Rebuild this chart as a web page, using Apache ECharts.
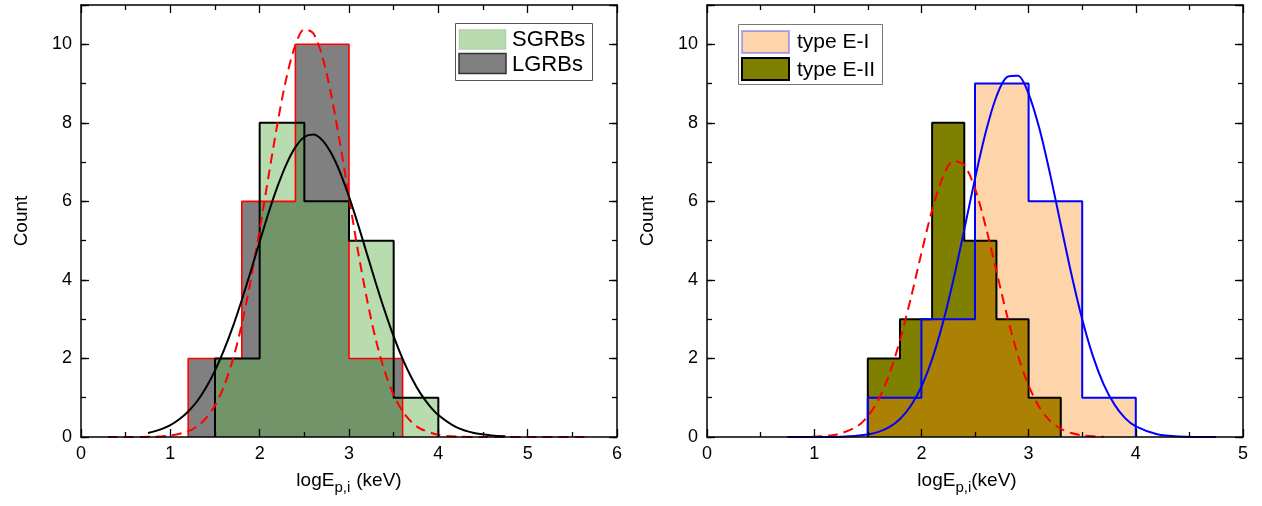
<!DOCTYPE html>
<html><head><meta charset="utf-8">
<script src="https://cdn.jsdelivr.net/npm/echarts@6/dist/echarts.min.js"></script>
<style>html,body{margin:0;padding:0;background:#fff}#c{width:1262px;height:506px}</style>
</head><body><div id="c"></div>
<script>
// ---- tick values ----
const xTicksLeft = [0, 1, 2, 3, 4, 5, 6];
const xTicksRight = [0, 1, 2, 3, 4, 5];
const yTickLabels = [0, 2, 4, 6, 8, 10];
const yMax = 11;

// ---- left panel histograms (bin edges / counts) ----
const lgrbEdges = [1.2, 1.8, 2.4, 3.0, 3.6];
const lgrbCounts = [2, 6, 10, 2];
const sgrbEdges = [1.5, 2.0, 2.5, 3.0, 3.5, 4.0];
const sgrbCounts = [2, 8, 6, 5, 1];

// ---- left panel fit curves ----
const lgrbFitX = [0.3, 0.8, 1.0, 1.2, 1.3, 1.4, 1.5, 1.6, 1.7, 1.8, 1.9, 2.0, 2.1, 2.2, 2.3, 2.4, 2.5, 2.6, 2.7, 2.8, 2.9, 3.0, 3.1, 3.2, 3.3, 3.4, 3.5, 3.6, 3.7, 3.8, 4.0, 4.2, 4.5, 5.0, 5.7];
const lgrbFitY = [0, 0.004, 0.037, 0.145, 0.27, 0.48, 0.80, 1.29, 1.97, 2.87, 3.99, 5.28, 6.65, 7.99, 9.15, 9.98, 10.38, 10.28, 9.70, 8.72, 7.47, 6.10, 4.74, 3.52, 2.48, 1.67, 1.07, 0.655, 0.38, 0.21, 0.056, 0.012, 0.001, 0, 0];
const sgrbFitX = [0.75, 0.9, 1.0, 1.1, 1.2, 1.3, 1.4, 1.5, 1.6, 1.7, 1.8, 1.9, 2.0, 2.1, 2.2, 2.3, 2.4, 2.5, 2.6, 2.7, 2.8, 2.9, 3.0, 3.1, 3.2, 3.3, 3.4, 3.5, 3.6, 3.7, 3.8, 3.9, 4.0, 4.2, 4.4, 4.6, 4.75];
const sgrbFitY = [0.10, 0.20, 0.30, 0.45, 0.65, 0.91, 1.26, 1.69, 2.21, 2.81, 3.49, 4.22, 4.97, 5.71, 6.38, 6.95, 7.38, 7.64, 7.70, 7.56, 7.23, 6.74, 6.12, 5.42, 4.67, 3.92, 3.21, 2.56, 1.99, 1.51, 1.11, 0.80, 0.56, 0.25, 0.10, 0.04, 0.02];

// ---- right panel histograms ----
const e1Edges = [1.5, 2.0, 2.5, 3.0, 3.5, 4.0];
const e1Counts = [1, 3, 9, 6, 1];
const e2Edges = [1.5, 1.8, 2.1, 2.4, 2.7, 3.0, 3.3];
const e2Counts = [2, 3, 8, 5, 3, 1];

// ---- right panel fit curves ----
const e2FitX = [0.98, 1.2, 1.4, 1.5, 1.6, 1.7, 1.8, 1.9, 2.0, 2.1, 2.2, 2.3, 2.4, 2.5, 2.6, 2.7, 2.8, 2.9, 3.0, 3.1, 3.2, 3.3, 3.4, 3.5, 3.7];
const e2FitY = [0.008, 0.058, 0.27, 0.53, 0.95, 1.59, 2.46, 3.52, 4.68, 5.78, 6.62, 7.03, 6.92, 6.33, 5.36, 4.22, 3.08, 2.08, 1.31, 0.76, 0.41, 0.21, 0.10, 0.04, 0.006];
const e1FitX = [0.75, 1.0, 1.25, 1.5, 1.6, 1.7, 1.8, 1.9, 2.0, 2.1, 2.2, 2.3, 2.4, 2.5, 2.6, 2.7, 2.8, 2.9, 3.0, 3.1, 3.2, 3.3, 3.4, 3.5, 3.6, 3.7, 3.8, 3.9, 4.0, 4.2, 4.4, 4.75];
const e1FitY = [0, 0.001, 0.009, 0.065, 0.13, 0.25, 0.46, 0.79, 1.28, 1.98, 2.90, 4.02, 5.28, 6.58, 7.76, 8.67, 9.17, 9.20, 8.74, 7.86, 6.70, 5.41, 4.14, 3.00, 2.06, 1.34, 0.83, 0.48, 0.27, 0.07, 0.015, 0];

const FONT = '"Liberation Sans", Arial, sans-serif';

function stepData(edges, counts) {
  const d = [[edges[0], 0]];
  counts.forEach((c, i) => d.push([edges[i], c]));
  d.push([edges[edges.length - 1], 0]);
  return d;
}
function zip(xs, ys) { return xs.map((x, i) => [x, ys[i]]); }

const tickStyle = { color: '#000', width: 1.3 };
function xAxisDef(grid, ticks, pos, label, name, shift) {
  return {
    type: 'value', gridIndex: grid, position: pos,
    min: ticks[0], max: ticks[ticks.length - 1], interval: 1,
    axisLine: { show: true, onZero: false, lineStyle: { color: '#000', width: 1.5 } },
    axisTick: { show: true, inside: true, length: 8, lineStyle: tickStyle },
    minorTick: { show: true, splitNumber: 2, length: 5, lineStyle: tickStyle },
    splitLine: { show: false },
    axisLabel: { show: label, fontSize: 18, color: '#000', fontFamily: FONT, margin: 8 },
    name: label ? name : '', nameLocation: 'middle', nameGap: 30,
    nameTextStyle: {
      padding: [0, shift || 0, 0, 0],
      rich: {
        a: { fontSize: 19, fontFamily: FONT, color: '#000', lineHeight: 28 },
        s: { fontSize: 15, fontFamily: FONT, color: '#000', lineHeight: 14, verticalAlign: 'bottom' },
        k: { fontSize: 19, fontFamily: FONT, color: '#000', lineHeight: 28, padding: [0, 0, 0, 6] }
      }
    },
    z: 5
  };
}
function yAxisDef(grid, pos, major, label) {
  return {
    type: 'value', gridIndex: grid, position: pos,
    min: 0, max: yMax, interval: major ? 2 : 1,
    axisLine: { show: major, onZero: false, lineStyle: { color: '#000', width: 1.5 } },
    axisTick: { show: true, inside: true, length: major ? 8 : 5, lineStyle: tickStyle },
    splitLine: { show: false },
    axisLabel: {
      show: label, fontSize: 18, color: '#000', fontFamily: FONT, margin: 9,
      formatter: v => (yTickLabels.indexOf(v) >= 0 ? String(v) : '')
    },
    name: label ? 'Count' : '', nameLocation: 'middle', nameGap: 50, nameRotate: 90,
    nameTextStyle: { fontSize: 19, fontFamily: FONT, color: '#000' },
    z: 5
  };
}

const chart = echarts.init(document.getElementById('c'), null, { renderer: 'canvas' });

const greenFill = 'rgba(94,175,75,0.44)';
const peachFill = 'rgba(252,131,5,0.34)';

const option = {
  animation: false,
  backgroundColor: '#fff',
  grid: [
    { left: 81, top: 5, right: 645, bottom: 69 },
    { left: 707, top: 5, right: 19, bottom: 69 }
  ],
  xAxis: [
    xAxisDef(0, xTicksLeft, 'bottom', true, '{a|logE}{s|p,i}{k|(keV)}', 0),
    xAxisDef(0, xTicksLeft, 'top', false, ''),
    xAxisDef(1, xTicksRight, 'bottom', true, '{a|logE}{s|p,i}{a|(keV)}', 16),
    xAxisDef(1, xTicksRight, 'top', false, '')
  ],
  yAxis: [
    yAxisDef(0, 'left', true, true),
    yAxisDef(0, 'left', false, false),
    yAxisDef(0, 'right', true, false),
    yAxisDef(0, 'right', false, false),
    yAxisDef(1, 'left', true, true),
    yAxisDef(1, 'left', false, false),
    yAxisDef(1, 'right', true, false),
    yAxisDef(1, 'right', false, false)
  ],
  series: [
    { name: 'LGRBs', type: 'line', xAxisIndex: 0, yAxisIndex: 0, step: 'end', symbol: 'none',
      data: stepData(lgrbEdges, lgrbCounts),
      lineStyle: { color: '#ff0000', width: 1.6 }, areaStyle: { color: '#808080', opacity: 1 } },
    { name: 'SGRBs', type: 'line', xAxisIndex: 0, yAxisIndex: 0, step: 'end', symbol: 'none',
      data: stepData(sgrbEdges, sgrbCounts),
      lineStyle: { color: '#000', width: 2 }, areaStyle: { color: greenFill, opacity: 1 } },
    { name: 'LGRB fit', type: 'line', xAxisIndex: 0, yAxisIndex: 0, symbol: 'none', smooth: 0.3,
      data: zip(lgrbFitX, lgrbFitY),
      lineStyle: { color: '#ff0000', width: 2, type: [10, 6] } },
    { name: 'SGRB fit', type: 'line', xAxisIndex: 0, yAxisIndex: 0, symbol: 'none', smooth: 0.3,
      data: zip(sgrbFitX, sgrbFitY),
      lineStyle: { color: '#000', width: 2 } },

    { name: 'type E-II', type: 'line', xAxisIndex: 2, yAxisIndex: 4, step: 'end', symbol: 'none',
      data: stepData(e2Edges, e2Counts),
      lineStyle: { color: '#000', width: 2 }, areaStyle: { color: '#808000', opacity: 1 } },
    { name: 'type E-I', type: 'line', xAxisIndex: 2, yAxisIndex: 4, step: 'end', symbol: 'none',
      data: stepData(e1Edges, e1Counts),
      lineStyle: { color: '#0000ff', width: 2 }, areaStyle: { color: peachFill, opacity: 1 } },
    { name: 'E-II fit', type: 'line', xAxisIndex: 2, yAxisIndex: 4, symbol: 'none', smooth: 0.3,
      data: zip(e2FitX, e2FitY),
      lineStyle: { color: '#ff0000', width: 2, type: [10, 6] } },
    { name: 'E-I fit', type: 'line', xAxisIndex: 2, yAxisIndex: 4, symbol: 'none', smooth: 0.3,
      data: zip(e1FitX, e1FitY),
      lineStyle: { color: '#0000ff', width: 2 } }
  ],
  graphic: [
    // left legend
    { type: 'rect', shape: { x: 455.5, y: 23.5, width: 137, height: 57 }, style: { fill: '#fff', stroke: '#555', lineWidth: 1 }, z: 50 },
    { type: 'rect', shape: { x: 459, y: 29.5, width: 47, height: 20 }, style: { fill: greenFill, stroke: 'rgba(0,0,0,0.08)', lineWidth: 1.5 }, z: 51 },
    { type: 'rect', shape: { x: 459, y: 53.5, width: 47, height: 20 }, style: { fill: '#808080', stroke: '#333', lineWidth: 1.5 }, z: 51 },
    { type: 'text', style: { text: 'SGRBs', x: 512, y: 40, font: '22px ' + FONT, fill: '#000', verticalAlign: 'middle' }, z: 52 },
    { type: 'text', style: { text: 'LGRBs', x: 512, y: 65, font: '22px ' + FONT, fill: '#000', verticalAlign: 'middle' }, z: 52 },
    // right legend
    { type: 'rect', shape: { x: 738.5, y: 24.5, width: 144, height: 60 }, style: { fill: '#fff', stroke: '#777', lineWidth: 1 }, z: 50 },
    { type: 'rect', shape: { x: 742, y: 31, width: 47, height: 22 }, style: { fill: peachFill, stroke: 'rgba(0,0,255,0.3)', lineWidth: 2 }, z: 51 },
    { type: 'rect', shape: { x: 742, y: 58, width: 47, height: 22 }, style: { fill: '#808000', stroke: '#000', lineWidth: 2 }, z: 51 },
    { type: 'text', style: { text: 'type E-I', x: 797, y: 42, font: '21px ' + FONT, fill: '#000', verticalAlign: 'middle' }, z: 52 },
    { type: 'text', style: { text: 'type E-II', x: 797, y: 70, font: '21px ' + FONT, fill: '#000', verticalAlign: 'middle' }, z: 52 }
  ]
};
chart.setOption(option);
</script></body></html>
